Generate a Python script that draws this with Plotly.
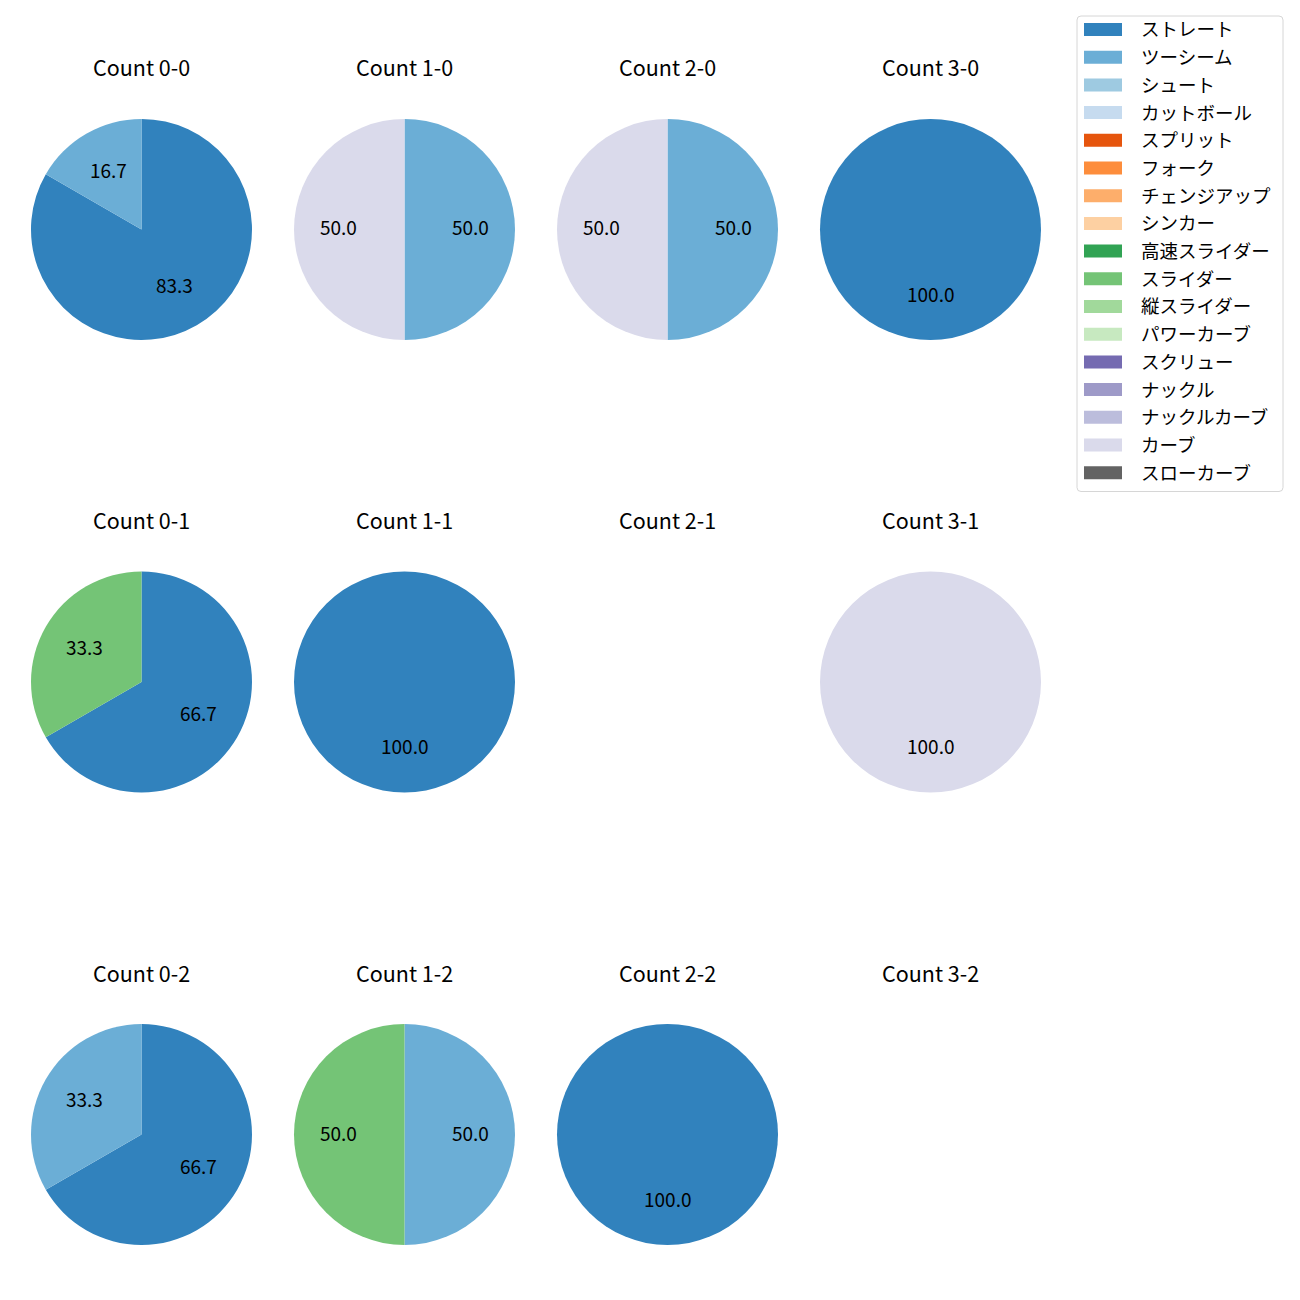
import math
import plotly.graph_objects as go

W, H = 1300, 1300
OFF = 8  # page body margin offset

pitch_types = ["ストレート", "ツーシーム", "シュート", "カットボール", "スプリット", "フォーク",
               "チェンジアップ", "シンカー", "高速スライダー", "スライダー", "縦スライダー",
               "パワーカーブ", "スクリュー", "ナックル", "ナックルカーブ", "カーブ", "スローカーブ"]
pitch_colors = ["#3182bd", "#6baed6", "#9ecae1", "#c6dbef", "#e6550d", "#fd8d3c",
                "#fdae6b", "#fdd0a2", "#31a354", "#74c476", "#a1d99b", "#c7e9c0",
                "#756bb1", "#9e9ac8", "#bcbddc", "#dadaeb", "#636363"]

count_titles = ["Count 0-0", "Count 1-0", "Count 2-0", "Count 3-0",
                "Count 0-1", "Count 1-1", "Count 2-1", "Count 3-1",
                "Count 0-2", "Count 1-2", "Count 2-2", "Count 3-2"]
count_pitches = [["ストレート", "ツーシーム"], ["ツーシーム", "カーブ"], ["ツーシーム", "カーブ"], ["ストレート"],
                 ["ストレート", "スライダー"], ["ストレート"], [], ["カーブ"],
                 ["ストレート", "ツーシーム"], ["ツーシーム", "スライダー"], ["ストレート"], []]
count_values = [[5, 1], [1, 1], [1, 1], [1],
                [2, 1], [1], [], [1],
                [2, 1], [1, 1], [1], []]

FONT = "Noto Sans CJK JP"
col_x = [141.5, 404.5, 667.5, 930.5]
row_y = [229.5, 682, 1134.5]
R = 110.5
title_dy = 162.5
text_dy = -2.5

color_of = dict(zip(pitch_types, pitch_colors))

fig = go.Figure()
annotations = []
shapes = []

def px(x):
    return (x - OFF) / W

def py(y):
    return 1 - (y - OFF) / H

for i, title in enumerate(count_titles):
    r, c = divmod(i, 4)
    cx, cy = col_x[c], row_y[r]
    annotations.append(dict(x=px(cx), y=py(cy - title_dy), xref="paper", yref="paper",
                            text=title, showarrow=False, xanchor="center", yanchor="middle",
                            font=dict(family=FONT, size=21.5, color="#000000")))
    labels = count_pitches[i]
    vals = count_values[i]
    if not vals:
        continue
    fig.add_trace(go.Pie(
        labels=labels, values=vals, sort=False, direction="clockwise", rotation=0,
        marker=dict(colors=[color_of[l] for l in labels], line=dict(width=0)),
        textinfo="none", hoverinfo="label+percent", showlegend=False,
        domain=dict(x=[px(cx - R), px(cx + R)], y=[py(cy + R), py(cy - R)]),
    ))
    total = sum(vals)
    cum = 0
    for v in vals:
        mid = 90 - (cum + v / 2) / total * 360
        cum += v
        tx = cx + 0.6 * R * math.cos(math.radians(mid))
        ty = cy - 0.6 * R * math.sin(math.radians(mid)) + text_dy
        annotations.append(dict(x=px(tx), y=py(ty), xref="paper", yref="paper",
                                text=f"{100 * v / total:.1f}", showarrow=False,
                                xanchor="center", yanchor="middle",
                                font=dict(family=FONT, size=19, color="#000000")))

# legend box
lx0, lx1, ly0, ly1, rad = 1077, 1283, 16, 491.5, 4
path = (f"M{px(lx0 + rad)},{py(ly0)} L{px(lx1 - rad)},{py(ly0)} Q{px(lx1)},{py(ly0)} {px(lx1)},{py(ly0 + rad)} "
        f"L{px(lx1)},{py(ly1 - rad)} Q{px(lx1)},{py(ly1)} {px(lx1 - rad)},{py(ly1)} "
        f"L{px(lx0 + rad)},{py(ly1)} Q{px(lx0)},{py(ly1)} {px(lx0)},{py(ly1 - rad)} "
        f"L{px(lx0)},{py(ly0 + rad)} Q{px(lx0)},{py(ly0)} {px(lx0 + rad)},{py(ly0)} Z")
shapes.append(dict(type="path", path=path, xref="paper", yref="paper",
                   line=dict(color="#d6d6d6", width=1), fillcolor="rgba(255,255,255,0.8)"))
for k, (name, col) in enumerate(zip(pitch_types, pitch_colors)):
    yc = 29.5 + k * 27.7
    shapes.append(dict(type="rect", xref="paper", yref="paper",
                       x0=px(1084), x1=px(1122), y0=py(yc - 6.5), y1=py(yc + 6.5),
                       line=dict(width=0), fillcolor=col))
    annotations.append(dict(x=px(1138.5), y=py(yc - 1), xref="paper", yref="paper", text=name,
                            showarrow=False, xanchor="left", yanchor="middle",
                            font=dict(family=FONT, size=18.5, color="#000000")))

fig.update_layout(width=W, height=H, margin=dict(l=0, r=0, t=0, b=0),
                  paper_bgcolor="white", plot_bgcolor="white", showlegend=False,
                  annotations=annotations, shapes=shapes)
fig.write_html("out.html")
